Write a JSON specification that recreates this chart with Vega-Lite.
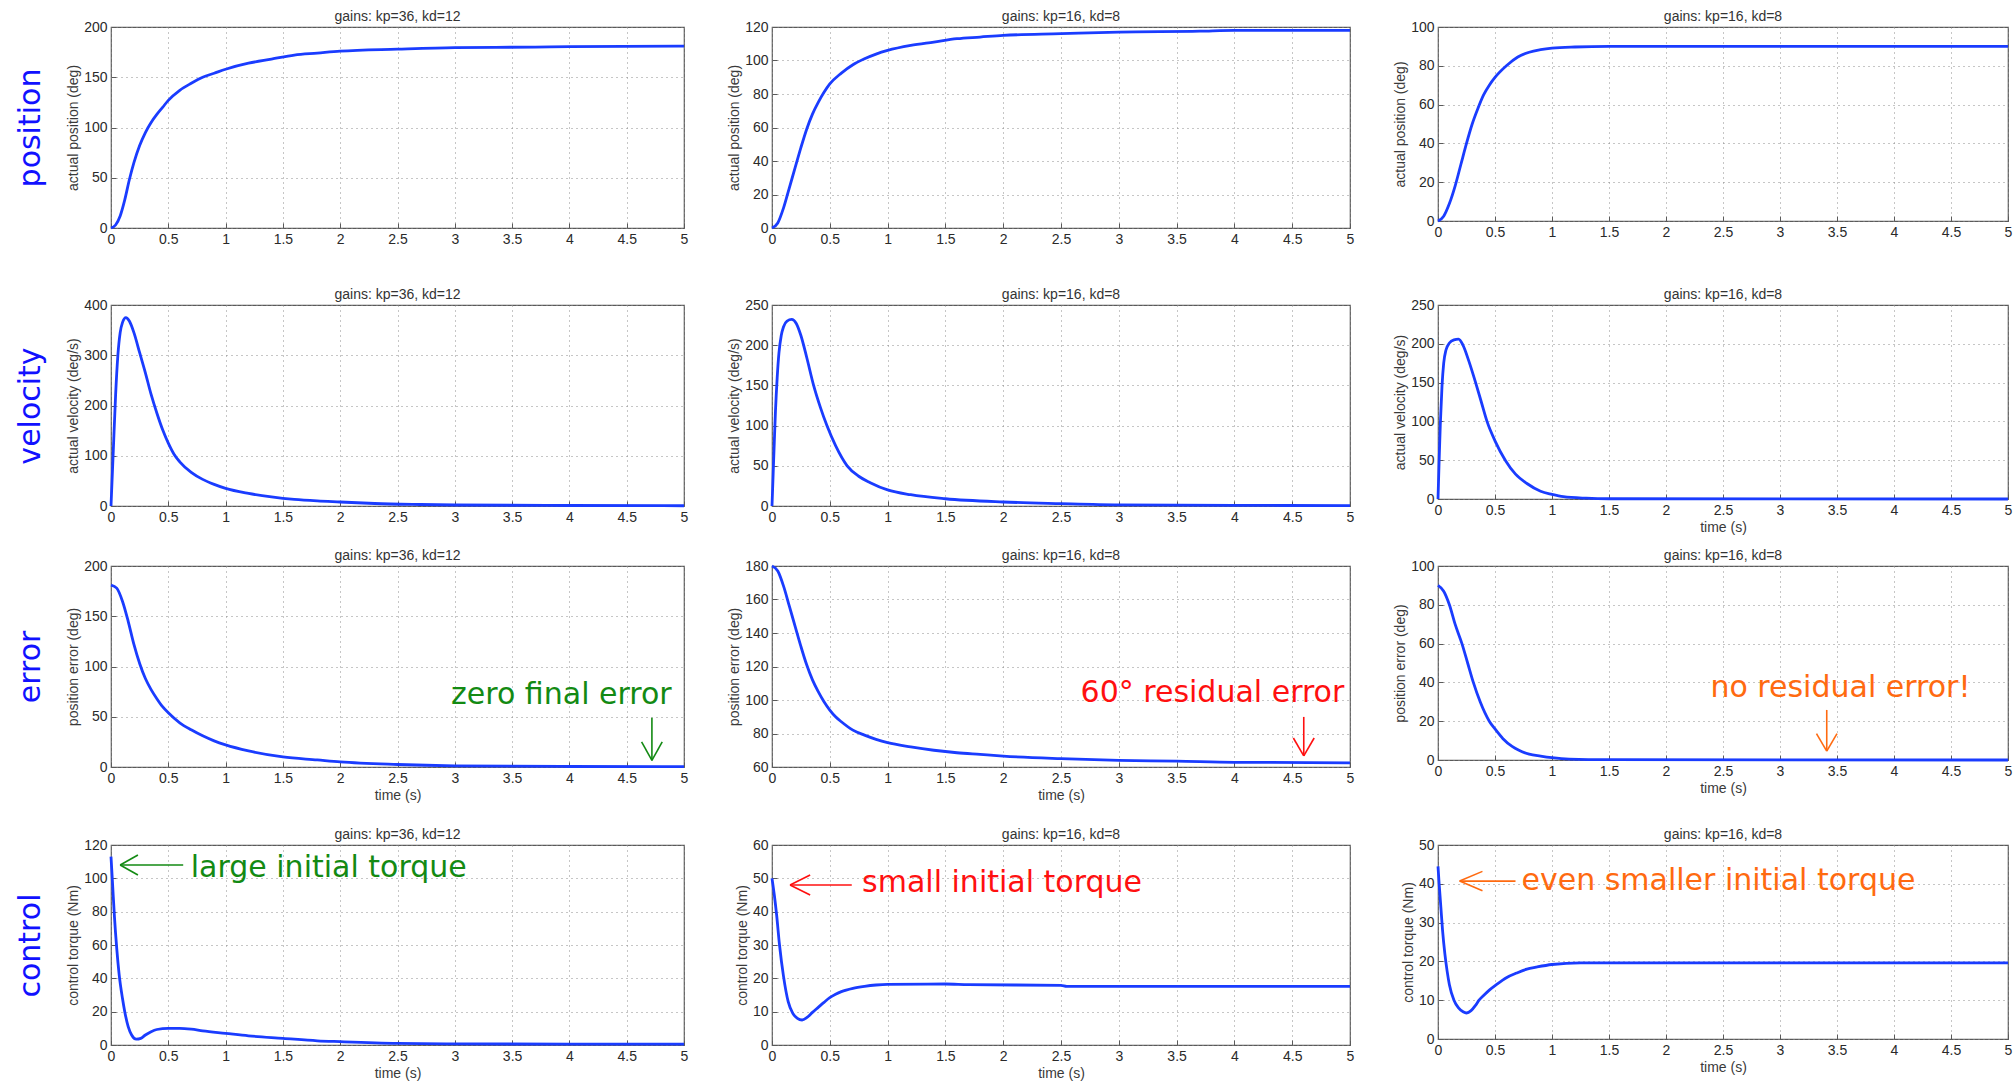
{
"$schema": "https://vega.github.io/schema/vega-lite/v6.json",
"background": "white",
"padding": {"left": 14, "top": 9, "right": 0, "bottom": 0},
"spacing": 13,
"config": {
  "view": {"stroke": "#5a5a5a", "strokeWidth": 1.2},
  "axis": {"grid": true, "gridColor": "#8c8c8c", "gridDash": [1, 4], "gridWidth": 1, "domain": false, "ticks": true, "tickSize": -5, "tickColor": "#5a5a5a", "labelFont": "Liberation Sans", "labelFontSize": 14, "labelColor": "#2a2a2a", "labelPadding": 9, "labelFlush": false, "labelOverlap": false, "titleFont": "Liberation Sans", "titleFontSize": 14, "titleFontWeight": "normal", "titleColor": "#3a3a3a", "titlePadding": 3},
  "title": {"font": "Liberation Sans", "fontSize": 14, "fontWeight": "normal", "color": "#333333", "offset": -4},
  "line": {"color": "#1a3cff", "strokeWidth": 2.8, "interpolate": "monotone"},
  "rule": {"strokeWidth": 1.6},
  "text": {"font": "DejaVu Sans", "fontSize": 30, "align": "center", "baseline": "alphabetic"}
},
"datasets": {
  "p1": [{"t":0,"v":0},{"t":0.04,"v":3},{"t":0.08,"v":12},{"t":0.12,"v":28},{"t":0.16,"v":48},{"t":0.2,"v":65},{"t":0.25,"v":82},{"t":0.3,"v":95},{"t":0.35,"v":105},{"t":0.4,"v":113},{"t":0.45,"v":120},{"t":0.5,"v":127},{"t":0.6,"v":137},{"t":0.7,"v":144},{"t":0.8,"v":150},{"t":0.9,"v":154},{"t":1.0,"v":158},{"t":1.2,"v":164},{"t":1.4,"v":168},{"t":1.6,"v":172},{"t":1.8,"v":174},{"t":2.0,"v":176},{"t":2.5,"v":178},{"t":3.0,"v":179.5},{"t":3.7,"v":180},{"t":4.0,"v":180.5},{"t":5.0,"v":181}],
  "p2": [{"t":0,"v":0},{"t":0.05,"v":3},{"t":0.1,"v":12},{"t":0.15,"v":24},{"t":0.2,"v":36},{"t":0.25,"v":48},{"t":0.3,"v":59},{"t":0.35,"v":68},{"t":0.4,"v":75},{"t":0.45,"v":81},{"t":0.5,"v":86},{"t":0.6,"v":92.5},{"t":0.7,"v":97.5},{"t":0.8,"v":101},{"t":0.9,"v":103.8},{"t":1.0,"v":106},{"t":1.2,"v":109},{"t":1.4,"v":111},{"t":1.6,"v":113},{"t":1.8,"v":114},{"t":2.0,"v":115},{"t":2.5,"v":116},{"t":3.0,"v":117},{"t":3.7,"v":117.5},{"t":4.0,"v":118},{"t":5.0,"v":118}],
  "p3": [{"t":0,"v":0},{"t":0.05,"v":2.5},{"t":0.1,"v":9},{"t":0.15,"v":18},{"t":0.2,"v":29},{"t":0.25,"v":40},{"t":0.3,"v":50},{"t":0.35,"v":58},{"t":0.4,"v":65},{"t":0.45,"v":70},{"t":0.5,"v":74},{"t":0.6,"v":80},{"t":0.7,"v":84.5},{"t":0.8,"v":87},{"t":0.9,"v":88.3},{"t":1.0,"v":89.1},{"t":1.2,"v":89.7},{"t":1.5,"v":90},{"t":5.0,"v":90}],
  "p4": [{"t":0,"v":0},{"t":0.02,"v":110},{"t":0.04,"v":220},{"t":0.06,"v":300},{"t":0.08,"v":345},{"t":0.1,"v":365},{"t":0.13,"v":375},{"t":0.16,"v":368},{"t":0.2,"v":345},{"t":0.25,"v":305},{"t":0.3,"v":265},{"t":0.35,"v":222},{"t":0.4,"v":185},{"t":0.45,"v":152},{"t":0.5,"v":125},{"t":0.55,"v":103},{"t":0.6,"v":88},{"t":0.7,"v":67},{"t":0.8,"v":53},{"t":0.9,"v":43},{"t":1.0,"v":35},{"t":1.2,"v":25},{"t":1.4,"v":18},{"t":1.6,"v":13},{"t":1.8,"v":10},{"t":2.0,"v":8},{"t":2.3,"v":5},{"t":2.7,"v":3},{"t":3.0,"v":2},{"t":4.0,"v":1},{"t":5.0,"v":0.5}],
  "p5": [{"t":0,"v":0},{"t":0.01,"v":40},{"t":0.02,"v":80},{"t":0.03,"v":118},{"t":0.045,"v":160},{"t":0.06,"v":190},{"t":0.08,"v":212},{"t":0.1,"v":223},{"t":0.13,"v":230},{"t":0.17,"v":232},{"t":0.21,"v":227},{"t":0.25,"v":212},{"t":0.3,"v":185},{"t":0.36,"v":150},{"t":0.42,"v":122},{"t":0.475,"v":100},{"t":0.55,"v":75},{"t":0.65,"v":50},{"t":0.75,"v":37},{"t":0.85,"v":29},{"t":1.0,"v":20},{"t":1.2,"v":14},{"t":1.5,"v":9},{"t":2.0,"v":5},{"t":2.5,"v":3},{"t":3.0,"v":1.5},{"t":4.0,"v":0.8},{"t":5.0,"v":0.5}],
  "p6": [{"t":0,"v":0},{"t":0.01,"v":50},{"t":0.02,"v":95},{"t":0.035,"v":145},{"t":0.05,"v":175},{"t":0.07,"v":192},{"t":0.1,"v":201},{"t":0.14,"v":205},{"t":0.18,"v":206},{"t":0.22,"v":198},{"t":0.27,"v":178},{"t":0.33,"v":150},{"t":0.38,"v":125},{"t":0.43,"v":100},{"t":0.5,"v":75},{"t":0.59,"v":50},{"t":0.68,"v":32},{"t":0.78,"v":20},{"t":0.9,"v":10},{"t":1.0,"v":6},{"t":1.1,"v":3},{"t":1.3,"v":1},{"t":1.5,"v":0.3},{"t":5.0,"v":0}],
  "p7": [{"t":0,"v":181},{"t":0.05,"v":178},{"t":0.1,"v":165},{"t":0.15,"v":145},{"t":0.2,"v":122},{"t":0.25,"v":103},{"t":0.3,"v":88},{"t":0.35,"v":77},{"t":0.4,"v":68},{"t":0.45,"v":60},{"t":0.5,"v":54},{"t":0.6,"v":44},{"t":0.7,"v":37},{"t":0.8,"v":31},{"t":0.9,"v":26},{"t":1.0,"v":22},{"t":1.2,"v":16},{"t":1.5,"v":10},{"t":1.8,"v":7},{"t":2.0,"v":5},{"t":2.5,"v":2.5},{"t":3.0,"v":1.2},{"t":4.0,"v":0.5},{"t":5.0,"v":0.3}],
  "p8": [{"t":0,"v":180},{"t":0.05,"v":177},{"t":0.1,"v":168},{"t":0.15,"v":156},{"t":0.2,"v":144},{"t":0.25,"v":132},{"t":0.3,"v":121},{"t":0.35,"v":112},{"t":0.4,"v":105},{"t":0.45,"v":99},{"t":0.5,"v":94},{"t":0.55,"v":90},{"t":0.6,"v":87},{"t":0.7,"v":82},{"t":0.8,"v":79},{"t":0.9,"v":76.5},{"t":1.0,"v":74.5},{"t":1.2,"v":72},{"t":1.4,"v":70},{"t":1.6,"v":68.5},{"t":1.8,"v":67.5},{"t":2.0,"v":66.5},{"t":2.5,"v":65},{"t":3.0,"v":64},{"t":3.5,"v":63.5},{"t":4.0,"v":62.8},{"t":5.0,"v":62.5}],
  "p9": [{"t":0,"v":90},{"t":0.05,"v":87},{"t":0.1,"v":80},{"t":0.15,"v":70},{"t":0.21,"v":60},{"t":0.26,"v":50},{"t":0.31,"v":40},{"t":0.37,"v":30},{"t":0.45,"v":20},{"t":0.5,"v":16},{"t":0.57,"v":11},{"t":0.65,"v":7},{"t":0.71,"v":5},{"t":0.8,"v":3},{"t":0.9,"v":2},{"t":1.0,"v":1.2},{"t":1.15,"v":0.5},{"t":1.5,"v":0.2},{"t":5.0,"v":0}],
  "p10": [{"t":0,"v":113},{"t":0.015,"v":95},{"t":0.03,"v":77},{"t":0.05,"v":58},{"t":0.07,"v":43},{"t":0.1,"v":28},{"t":0.12,"v":20},{"t":0.15,"v":11},{"t":0.18,"v":6},{"t":0.22,"v":3.5},{"t":0.26,"v":4},{"t":0.3,"v":6},{"t":0.35,"v":8},{"t":0.4,"v":9.3},{"t":0.5,"v":10},{"t":0.6,"v":10},{"t":0.7,"v":9.5},{"t":0.8,"v":8.5},{"t":1.0,"v":7},{"t":1.2,"v":5.5},{"t":1.5,"v":4},{"t":1.8,"v":2.5},{"t":2.0,"v":2},{"t":2.5,"v":1},{"t":3.0,"v":0.7},{"t":4.0,"v":0.5},{"t":5.0,"v":0.5}],
  "p11": [{"t":0,"v":50},{"t":0.02,"v":45},{"t":0.04,"v":39},{"t":0.065,"v":30},{"t":0.1,"v":20.5},{"t":0.14,"v":13},{"t":0.18,"v":9.5},{"t":0.22,"v":8},{"t":0.26,"v":7.5},{"t":0.3,"v":8.2},{"t":0.35,"v":9.8},{"t":0.4,"v":11.3},{"t":0.45,"v":12.8},{"t":0.5,"v":14.2},{"t":0.55,"v":15.2},{"t":0.6,"v":16},{"t":0.7,"v":17},{"t":0.8,"v":17.6},{"t":0.9,"v":18},{"t":1.0,"v":18.2},{"t":1.5,"v":18.3},{"t":1.7,"v":18.1},{"t":2.5,"v":17.9},{"t":2.55,"v":17.6},{"t":5.0,"v":17.6}],
  "p12": [{"t":0,"v":44.5},{"t":0.01,"v":40},{"t":0.025,"v":34},{"t":0.04,"v":28},{"t":0.06,"v":22},{"t":0.08,"v":17.5},{"t":0.1,"v":14},{"t":0.14,"v":10},{"t":0.18,"v":8},{"t":0.22,"v":7},{"t":0.25,"v":6.7},{"t":0.29,"v":7.3},{"t":0.33,"v":8.7},{"t":0.36,"v":10},{"t":0.4,"v":11.2},{"t":0.45,"v":12.6},{"t":0.52,"v":14.2},{"t":0.6,"v":15.8},{"t":0.69,"v":17},{"t":0.78,"v":18},{"t":0.86,"v":18.5},{"t":1.0,"v":19.2},{"t":1.25,"v":19.6},{"t":5.0,"v":19.6}],
  "a7": [{"t":3.93,"v":63,"label":"zero final error"}],
  "r7": [{"t":4.72,"t2":4.72,"v":49,"v2":6.5},{"t":4.63,"t2":4.72,"v":25,"v2":6.5},{"t":4.81,"t2":4.72,"v":25,"v2":6.5}],
  "a8": [{"t":3.81,"v":98.8,"label":"60° residual error"}],
  "r8": [{"t":4.6,"t2":4.6,"v":89.9,"v2":66.6},{"t":4.51,"t2":4.6,"v":77.3,"v2":66.6},{"t":4.69,"t2":4.6,"v":77.3,"v2":66.6}],
  "a9": [{"t":3.53,"v":32.5,"label":"no residual error!"}],
  "r9": [{"t":3.41,"t2":3.41,"v":25.8,"v2":4.6},{"t":3.32,"t2":3.41,"v":13.6,"v2":4.6},{"t":3.5,"t2":3.41,"v":13.6,"v2":4.6}],
  "a10": [{"t":1.9,"v":101,"label":"large initial torque"}],
  "r10": [{"t":0.08,"t2":0.63,"v":108,"v2":108},{"t":0.08,"t2":0.235,"v":108,"v2":114},{"t":0.08,"t2":0.235,"v":108,"v2":102}],
  "a11": [{"t":1.99,"v":46,"label":"small initial torque"}],
  "r11": [{"t":0.156,"t2":0.69,"v":48,"v2":48},{"t":0.156,"t2":0.33,"v":48,"v2":51},{"t":0.156,"t2":0.33,"v":48,"v2":45}],
  "a12": [{"t":2.46,"v":38.3,"label":"even smaller initial torque"}],
  "r12": [{"t":0.19,"t2":0.68,"v":40.7,"v2":40.7},{"t":0.19,"t2":0.39,"v":40.7,"v2":43.2},{"t":0.19,"t2":0.39,"v":40.7,"v2":38.2}]
},
"vconcat": [
 {"spacing": 40, "vconcat": [
  {"spacing": 88, "bounds": "flush", "hconcat": [
   {
    "width": 573, "height": 201, "title": "gains: kp=36, kd=12",
    "layer": [
      {"data": {"name": "p1"}, "mark": "line", "encoding": {
        "x": {"field": "t", "type": "quantitative", "scale": {"domain": [0, 5]}, "axis": {"values": [0,0.5,1,1.5,2,2.5,3,3.5,4,4.5,5], "format": "~g", "title": null, "labelOverlap": false}},
        "y": {"field": "v", "type": "quantitative", "scale": {"domain": [0, 200]}, "axis": {"values": [0,50,100,150,200], "title": "actual position (deg)", "labelOverlap": false}}}},
      {"data": {"name": "p1"}, "mark": {"type": "line", "opacity": 0}, "encoding": {
        "x": {"field": "t", "type": "quantitative"},
        "y": {"field": "v", "type": "quantitative", "axis": {"orient": "left", "title": "position", "labels": false, "ticks": false, "grid": false, "domain": false, "titleFont": "DejaVu Sans", "titleFontSize": 30, "titleColor": "#1111ff", "titlePadding": 66}}}}
    ],
    "resolve": {"scale": {"y": "independent"}}
   },
   {
    "width": 578, "height": 201, "title": "gains: kp=16, kd=8",
    "data": {"name": "p2"}, "mark": "line", "encoding": {
      "x": {"field": "t", "type": "quantitative", "scale": {"domain": [0, 5]}, "axis": {"values": [0,0.5,1,1.5,2,2.5,3,3.5,4,4.5,5], "format": "~g", "title": null, "labelOverlap": false}},
      "y": {"field": "v", "type": "quantitative", "scale": {"domain": [0, 120]}, "axis": {"values": [0,20,40,60,80,100,120], "title": "actual position (deg)", "labelOverlap": false}}}
   },
   {
    "width": 570, "height": 194, "title": "gains: kp=16, kd=8",
    "data": {"name": "p3"}, "mark": "line", "encoding": {
      "x": {"field": "t", "type": "quantitative", "scale": {"domain": [0, 5]}, "axis": {"values": [0,0.5,1,1.5,2,2.5,3,3.5,4,4.5,5], "format": "~g", "title": null, "labelOverlap": false}},
      "y": {"field": "v", "type": "quantitative", "scale": {"domain": [0, 100]}, "axis": {"values": [0,20,40,60,80,100], "title": "actual position (deg)", "labelOverlap": false}}}
   }
  ]},
  {"spacing": 88, "bounds": "flush", "hconcat": [
   {
    "width": 573, "height": 201, "title": "gains: kp=36, kd=12",
    "layer": [
      {"data": {"name": "p4"}, "mark": "line", "encoding": {
        "x": {"field": "t", "type": "quantitative", "scale": {"domain": [0, 5]}, "axis": {"values": [0,0.5,1,1.5,2,2.5,3,3.5,4,4.5,5], "format": "~g", "title": null, "labelOverlap": false}},
        "y": {"field": "v", "type": "quantitative", "scale": {"domain": [0, 400]}, "axis": {"values": [0,100,200,300,400], "title": "actual velocity (deg/s)", "labelOverlap": false}}}},
      {"data": {"name": "p4"}, "mark": {"type": "line", "opacity": 0}, "encoding": {
        "x": {"field": "t", "type": "quantitative"},
        "y": {"field": "v", "type": "quantitative", "axis": {"orient": "left", "title": "velocity", "labels": false, "ticks": false, "grid": false, "domain": false, "titleFont": "DejaVu Sans", "titleFontSize": 30, "titleColor": "#1111ff", "titlePadding": 66}}}}
    ],
    "resolve": {"scale": {"y": "independent"}}
   },
   {
    "width": 578, "height": 201, "title": "gains: kp=16, kd=8",
    "data": {"name": "p5"}, "mark": "line", "encoding": {
      "x": {"field": "t", "type": "quantitative", "scale": {"domain": [0, 5]}, "axis": {"values": [0,0.5,1,1.5,2,2.5,3,3.5,4,4.5,5], "format": "~g", "title": null, "labelOverlap": false}},
      "y": {"field": "v", "type": "quantitative", "scale": {"domain": [0, 250]}, "axis": {"values": [0,50,100,150,200,250], "title": "actual velocity (deg/s)", "labelOverlap": false}}}
   },
   {
    "width": 570, "height": 194, "title": "gains: kp=16, kd=8",
    "data": {"name": "p6"}, "mark": "line", "encoding": {
      "x": {"field": "t", "type": "quantitative", "scale": {"domain": [0, 5]}, "axis": {"values": [0,0.5,1,1.5,2,2.5,3,3.5,4,4.5,5], "format": "~g", "title": "time (s)", "labelOverlap": false}},
      "y": {"field": "v", "type": "quantitative", "scale": {"domain": [0, 250]}, "axis": {"values": [0,50,100,150,200,250], "title": "actual velocity (deg/s)", "labelOverlap": false}}}
   }
  ]}
 ]},
 {"spacing": 24, "vconcat": [
  {"spacing": 88, "bounds": "flush", "hconcat": [
   {
    "width": 573, "height": 201, "title": "gains: kp=36, kd=12",
    "layer": [
      {"data": {"name": "p7"}, "mark": "line", "encoding": {
        "x": {"field": "t", "type": "quantitative", "scale": {"domain": [0, 5]}, "axis": {"values": [0,0.5,1,1.5,2,2.5,3,3.5,4,4.5,5], "format": "~g", "title": "time (s)", "labelOverlap": false}},
        "y": {"field": "v", "type": "quantitative", "scale": {"domain": [0, 200]}, "axis": {"values": [0,50,100,150,200], "title": "position error (deg)", "labelOverlap": false}}}},
      {"layer": [
        {"data": {"name": "a7"}, "mark": {"type": "text", "color": "#138a13"}, "encoding": {
          "x": {"field": "t", "type": "quantitative"},
          "y": {"field": "v", "type": "quantitative", "scale": {"domain": [0, 200]}, "axis": null},
          "text": {"field": "label"}}},
        {"data": {"name": "r7"}, "mark": {"type": "rule", "color": "#138a13"}, "encoding": {
          "x": {"field": "t", "type": "quantitative"}, "x2": {"field": "t2"},
          "y": {"field": "v", "type": "quantitative", "scale": {"domain": [0, 200]}, "axis": null}, "y2": {"field": "v2"}}}
      ]},
      {"data": {"name": "p7"}, "mark": {"type": "line", "opacity": 0}, "encoding": {
        "x": {"field": "t", "type": "quantitative"},
        "y": {"field": "v", "type": "quantitative", "axis": {"orient": "left", "title": "error", "labels": false, "ticks": false, "grid": false, "domain": false, "titleFont": "DejaVu Sans", "titleFontSize": 30, "titleColor": "#1111ff", "titlePadding": 66}}}}
    ],
    "resolve": {"scale": {"y": "independent"}}
   },
   {
    "width": 578, "height": 201, "title": "gains: kp=16, kd=8",
    "layer": [
      {"data": {"name": "p8"}, "mark": "line", "encoding": {
        "x": {"field": "t", "type": "quantitative", "scale": {"domain": [0, 5]}, "axis": {"values": [0,0.5,1,1.5,2,2.5,3,3.5,4,4.5,5], "format": "~g", "title": "time (s)", "labelOverlap": false}},
        "y": {"field": "v", "type": "quantitative", "scale": {"domain": [60, 180]}, "axis": {"values": [60,80,100,120,140,160,180], "title": "position error (deg)", "labelOverlap": false}}}},
      {"layer": [
        {"data": {"name": "a8"}, "mark": {"type": "text", "color": "#ff1010"}, "encoding": {
          "x": {"field": "t", "type": "quantitative"},
          "y": {"field": "v", "type": "quantitative", "scale": {"domain": [60, 180]}, "axis": null},
          "text": {"field": "label"}}},
        {"data": {"name": "r8"}, "mark": {"type": "rule", "color": "#ff1010"}, "encoding": {
          "x": {"field": "t", "type": "quantitative"}, "x2": {"field": "t2"},
          "y": {"field": "v", "type": "quantitative", "scale": {"domain": [60, 180]}, "axis": null}, "y2": {"field": "v2"}}}
      ]}
    ],
    "resolve": {"scale": {"y": "independent"}}
   },
   {
    "width": 570, "height": 194, "title": "gains: kp=16, kd=8",
    "layer": [
      {"data": {"name": "p9"}, "mark": "line", "encoding": {
        "x": {"field": "t", "type": "quantitative", "scale": {"domain": [0, 5]}, "axis": {"values": [0,0.5,1,1.5,2,2.5,3,3.5,4,4.5,5], "format": "~g", "title": "time (s)", "labelOverlap": false}},
        "y": {"field": "v", "type": "quantitative", "scale": {"domain": [0, 100]}, "axis": {"values": [0,20,40,60,80,100], "title": "position error (deg)", "labelOverlap": false}}}},
      {"layer": [
        {"data": {"name": "a9"}, "mark": {"type": "text", "color": "#ff6a10"}, "encoding": {
          "x": {"field": "t", "type": "quantitative"},
          "y": {"field": "v", "type": "quantitative", "scale": {"domain": [0, 100]}, "axis": null},
          "text": {"field": "label"}}},
        {"data": {"name": "r9"}, "mark": {"type": "rule", "color": "#ff6a10"}, "encoding": {
          "x": {"field": "t", "type": "quantitative"}, "x2": {"field": "t2"},
          "y": {"field": "v", "type": "quantitative", "scale": {"domain": [0, 100]}, "axis": null}, "y2": {"field": "v2"}}}
      ]}
    ],
    "resolve": {"scale": {"y": "independent"}}
   }
  ]},
  {"spacing": 88, "bounds": "flush", "hconcat": [
   {
    "width": 573, "height": 200, "title": "gains: kp=36, kd=12",
    "layer": [
      {"data": {"name": "p10"}, "mark": "line", "encoding": {
        "x": {"field": "t", "type": "quantitative", "scale": {"domain": [0, 5]}, "axis": {"values": [0,0.5,1,1.5,2,2.5,3,3.5,4,4.5,5], "format": "~g", "title": "time (s)", "labelOverlap": false}},
        "y": {"field": "v", "type": "quantitative", "scale": {"domain": [0, 120]}, "axis": {"values": [0,20,40,60,80,100,120], "title": "control torque (Nm)", "labelOverlap": false}}}},
      {"layer": [
        {"data": {"name": "a10"}, "mark": {"type": "text", "color": "#138a13"}, "encoding": {
          "x": {"field": "t", "type": "quantitative"},
          "y": {"field": "v", "type": "quantitative", "scale": {"domain": [0, 120]}, "axis": null},
          "text": {"field": "label"}}},
        {"data": {"name": "r10"}, "mark": {"type": "rule", "color": "#138a13"}, "encoding": {
          "x": {"field": "t", "type": "quantitative"}, "x2": {"field": "t2"},
          "y": {"field": "v", "type": "quantitative", "scale": {"domain": [0, 120]}, "axis": null}, "y2": {"field": "v2"}}}
      ]},
      {"data": {"name": "p10"}, "mark": {"type": "line", "opacity": 0}, "encoding": {
        "x": {"field": "t", "type": "quantitative"},
        "y": {"field": "v", "type": "quantitative", "axis": {"orient": "left", "title": "control", "labels": false, "ticks": false, "grid": false, "domain": false, "titleFont": "DejaVu Sans", "titleFontSize": 30, "titleColor": "#1111ff", "titlePadding": 66}}}}
    ],
    "resolve": {"scale": {"y": "independent"}}
   },
   {
    "width": 578, "height": 200, "title": "gains: kp=16, kd=8",
    "layer": [
      {"data": {"name": "p11"}, "mark": "line", "encoding": {
        "x": {"field": "t", "type": "quantitative", "scale": {"domain": [0, 5]}, "axis": {"values": [0,0.5,1,1.5,2,2.5,3,3.5,4,4.5,5], "format": "~g", "title": "time (s)", "labelOverlap": false}},
        "y": {"field": "v", "type": "quantitative", "scale": {"domain": [0, 60]}, "axis": {"values": [0,10,20,30,40,50,60], "title": "control torque (Nm)", "labelOverlap": false}}}},
      {"layer": [
        {"data": {"name": "a11"}, "mark": {"type": "text", "color": "#ff1010"}, "encoding": {
          "x": {"field": "t", "type": "quantitative"},
          "y": {"field": "v", "type": "quantitative", "scale": {"domain": [0, 60]}, "axis": null},
          "text": {"field": "label"}}},
        {"data": {"name": "r11"}, "mark": {"type": "rule", "color": "#ff1010"}, "encoding": {
          "x": {"field": "t", "type": "quantitative"}, "x2": {"field": "t2"},
          "y": {"field": "v", "type": "quantitative", "scale": {"domain": [0, 60]}, "axis": null}, "y2": {"field": "v2"}}}
      ]}
    ],
    "resolve": {"scale": {"y": "independent"}}
   },
   {
    "width": 570, "height": 194, "title": "gains: kp=16, kd=8",
    "layer": [
      {"data": {"name": "p12"}, "mark": "line", "encoding": {
        "x": {"field": "t", "type": "quantitative", "scale": {"domain": [0, 5]}, "axis": {"values": [0,0.5,1,1.5,2,2.5,3,3.5,4,4.5,5], "format": "~g", "title": "time (s)", "labelOverlap": false}},
        "y": {"field": "v", "type": "quantitative", "scale": {"domain": [0, 50]}, "axis": {"values": [0,10,20,30,40,50], "title": "control torque (Nm)", "labelOverlap": false}}}},
      {"layer": [
        {"data": {"name": "a12"}, "mark": {"type": "text", "color": "#ff6a10"}, "encoding": {
          "x": {"field": "t", "type": "quantitative"},
          "y": {"field": "v", "type": "quantitative", "scale": {"domain": [0, 50]}, "axis": null},
          "text": {"field": "label"}}},
        {"data": {"name": "r12"}, "mark": {"type": "rule", "color": "#ff6a10"}, "encoding": {
          "x": {"field": "t", "type": "quantitative"}, "x2": {"field": "t2"},
          "y": {"field": "v", "type": "quantitative", "scale": {"domain": [0, 50]}, "axis": null}, "y2": {"field": "v2"}}}
      ]}
    ],
    "resolve": {"scale": {"y": "independent"}}
   }
  ]}
 ]}
]
}
